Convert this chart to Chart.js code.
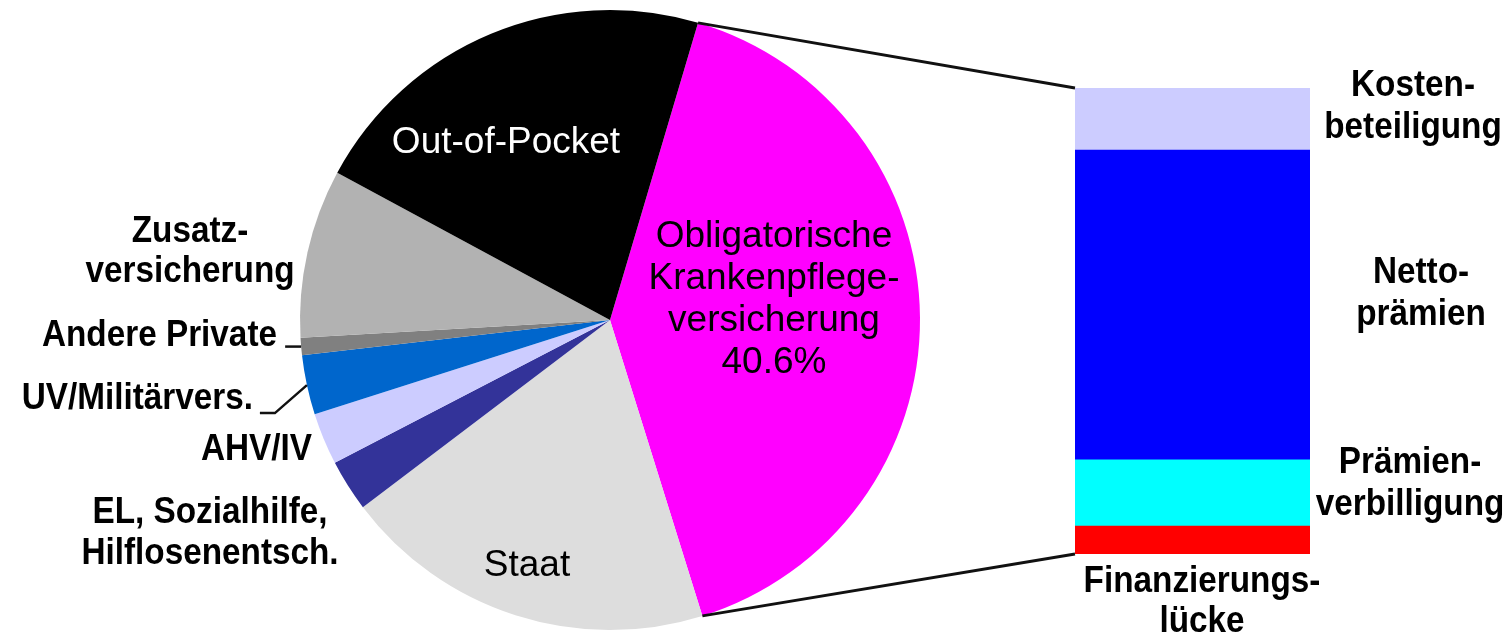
<!DOCTYPE html>
<html>
<head>
<meta charset="utf-8">
<script src="https://cdn.jsdelivr.net/npm/chart.js@4.4.1/dist/chart.umd.min.js"></script>
<style>
  html, body { margin: 0; padding: 0; background: #fff; }
  #wrap { position: relative; width: 1508px; height: 640px; }
  #wrap canvas { position: absolute; left: 0; top: 0; }
</style>
</head>
<body>
<div id="wrap">
  <canvas id="pieChart" width="1508" height="640"></canvas>
  <canvas id="barChart" width="1508" height="640"></canvas>
</div>
<script>
// Finanzierung des Gesundheitswesens (Anteile in %), im Uhrzeigersinn ab KVG
const pieLabels = ['Obligatorische Krankenpflegeversicherung', 'Staat', 'EL, Sozialhilfe, Hilflosenentsch.',
  'AHV/IV', 'UV/Militärvers.', 'Andere Private', 'Zusatzversicherung', 'Out-of-Pocket'];
const pieValues = [40.6, 19.5, 2.7, 2.7, 3.1, 0.9, 8.8, 21.7];
const pieColors = ['#ff00ff', '#dddddd', '#333399', '#ccccff', '#0066cc', '#808080', '#b2b2b2', '#000000'];

// Aufteilung der KVG (von unten nach oben gestapelt)
const barLabels = ['Finanzierungslücke', 'Prämienverbilligung', 'Nettoprämien', 'Kostenbeteiligung'];
const barValues = [6.0, 14.2, 66.5, 13.3];
const barColors = ['#ff0000', '#00ffff', '#0000ff', '#ccccff'];

const FONT = '"Liberation Sans", Arial, sans-serif';
const REG = '37px ' + FONT;
const BOLD = 'bold 37px ' + FONT;

// sx < 1 -> schmalere Schrift (wie im Original)
function drawText(ctx, lines, x, y, lh, align, font, color, sx) {
  ctx.save();
  ctx.font = font;
  ctx.fillStyle = color;
  ctx.textAlign = align;
  ctx.textBaseline = 'middle';
  lines.forEach((t, i) => {
    ctx.save();
    ctx.translate(x, y + i * lh);
    ctx.scale(sx || 1, 1);
    ctx.fillText(t, 0, 0);
    ctx.restore();
  });
  ctx.restore();
}

function boldText(ctx, lines, x, y, lh, align) {
  drawText(ctx, lines, x, y, lh, align, BOLD, '#000000', 0.9);
}

function arcPoint(arc, angle) {
  return { x: arc.x + arc.outerRadius * Math.cos(angle), y: arc.y + arc.outerRadius * Math.sin(angle) };
}

const pieTextPlugin = {
  id: 'pieText',
  afterDraw(chart) {
    const ctx = chart.ctx;
    const arcs = chart.getDatasetMeta(0).data;

    // Texte in den Segmenten
    drawText(ctx, ['Out-of-Pocket'], 506, 143, 0, 'center', REG, '#ffffff');
    drawText(ctx, ['Obligatorische', 'Krankenpflege-', 'versicherung', pieValues[0].toFixed(1) + '%'],
      774, 237, 42, 'center', REG, '#000000');
    drawText(ctx, ['Staat'], 527, 566, 0, 'center', REG, '#000000');

    // Texte ausserhalb
    boldText(ctx, ['Zusatz-', 'versicherung'], 190, 232, 40, 'center');
    boldText(ctx, ['Andere Private'], 277, 336, 0, 'right');
    boldText(ctx, ['UV/Militärvers.'], 253, 399, 0, 'right');
    boldText(ctx, ['AHV/IV'], 312, 450, 0, 'right');
    boldText(ctx, ['EL, Sozialhilfe,', 'Hilflosenentsch.'], 210, 513, 41, 'center');

    // Führungslinien
    ctx.save();
    ctx.strokeStyle = '#111111';
    ctx.lineWidth = 2.5;
    const a5 = arcs[5];
    const p5 = arcPoint(a5, (a5.startAngle + a5.endAngle) / 2);
    ctx.beginPath();
    ctx.moveTo(p5.x, p5.y);
    ctx.lineTo(p5.x - 16, p5.y);
    ctx.stroke();
    const a4 = arcs[4];
    const p4 = arcPoint(a4, (a4.startAngle + a4.endAngle) / 2);
    ctx.beginPath();
    ctx.moveTo(p4.x, p4.y);
    ctx.lineTo(p4.x - 32, p4.y + 28);
    ctx.lineTo(p4.x - 47, p4.y + 28);
    ctx.stroke();
    ctx.restore();
  }
};

const pieChart = new Chart(document.getElementById('pieChart'), {
  type: 'pie',
  data: {
    labels: pieLabels,
    datasets: [{
      data: pieValues,
      backgroundColor: pieColors,
      borderWidth: 0,
      hoverOffset: 0
    }]
  },
  options: {
    responsive: false,
    animation: false,
    rotation: 16.5,
    layout: { padding: { left: 300, right: 588, top: 10, bottom: 10 } },
    plugins: {
      legend: { display: false },
      tooltip: { enabled: false }
    }
  },
  plugins: [pieTextPlugin]
});

const barTextPlugin = {
  id: 'barText',
  afterDraw(chart) {
    const ctx = chart.ctx;
    const topBar = chart.getDatasetMeta(barValues.length - 1).data[0];
    const botBar = chart.getDatasetMeta(0).data[0];
    const left = topBar.x - topBar.width / 2;

    // Verbindungslinien vom KVG-Segment zum Balken
    const kvg = pieChart.getDatasetMeta(0).data[0];
    const s = arcPoint(kvg, kvg.startAngle);
    const e = arcPoint(kvg, kvg.endAngle);
    ctx.save();
    ctx.strokeStyle = '#111111';
    ctx.lineWidth = 2.8;
    ctx.beginPath();
    ctx.moveTo(s.x, s.y);
    ctx.lineTo(left, topBar.y);
    ctx.moveTo(e.x, e.y);
    ctx.lineTo(left, botBar.base);
    ctx.stroke();
    ctx.restore();

    boldText(ctx, ['Kosten-', 'beteiligung'], 1413, 86, 42, 'center');
    boldText(ctx, ['Netto-', 'prämien'], 1421, 273, 42, 'center');
    boldText(ctx, ['Prämien-', 'verbilligung'], 1410, 463, 42, 'center');
    boldText(ctx, ['Finanzierungs-', 'lücke'], 1202, 582, 40, 'center');
  }
};

new Chart(document.getElementById('barChart'), {
  type: 'bar',
  data: {
    labels: ['KVG'],
    datasets: barValues.map((v, i) => ({
      label: barLabels[i],
      data: [v],
      backgroundColor: barColors[i],
      borderWidth: 0,
      barPercentage: 1,
      categoryPercentage: 1
    }))
  },
  options: {
    responsive: false,
    animation: false,
    layout: { padding: { left: 1075, right: 198, top: 88, bottom: 86 } },
    scales: {
      x: { display: false, stacked: true },
      y: { display: false, stacked: true, min: 0, max: 100 }
    },
    plugins: {
      legend: { display: false },
      tooltip: { enabled: false }
    }
  },
  plugins: [barTextPlugin]
});
</script>
</body>
</html>
